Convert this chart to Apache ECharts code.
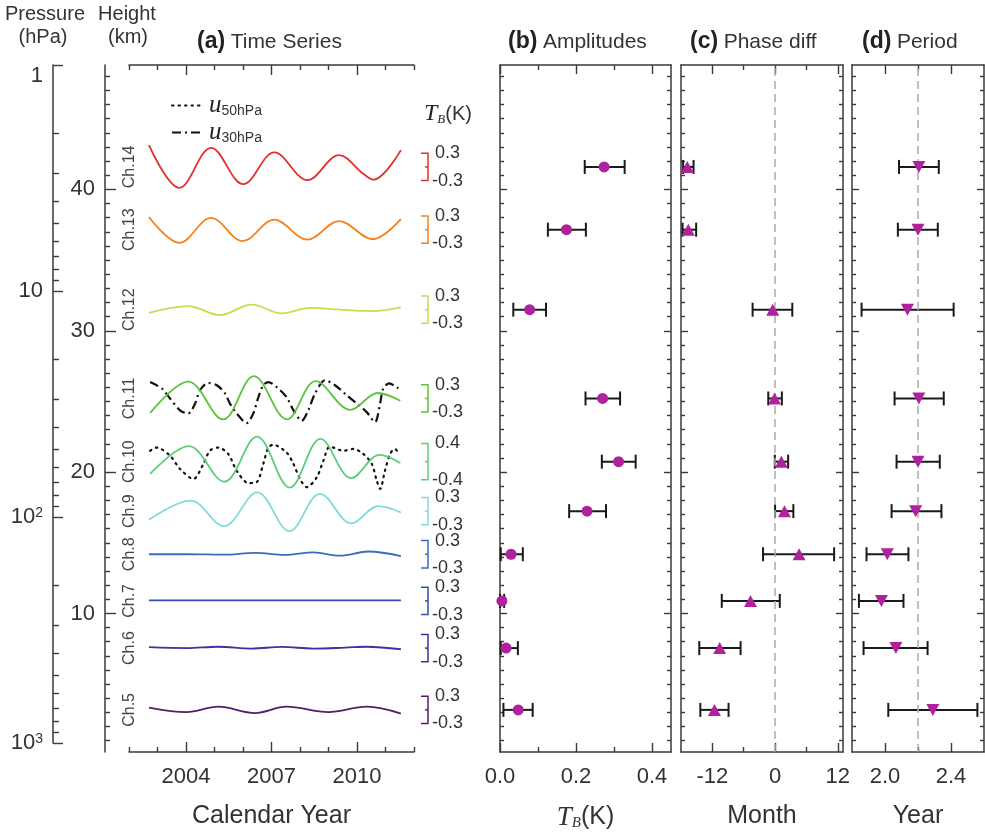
<!DOCTYPE html>
<html><head><meta charset="utf-8">
<script src="https://cdn.jsdelivr.net/npm/echarts@6/dist/echarts.min.js"></script>
<style>html,body{margin:0;padding:0;background:#fff}#c{width:985px;height:837px}</style>
</head><body><div id="c"></div>
<script>
// ---------------- DATA ----------------
const channelNames = ['Ch.14','Ch.13','Ch.12','Ch.11','Ch.10','Ch.9','Ch.8','Ch.7','Ch.6','Ch.5'];
const channelHeightKm = [41.59, 37.15, 31.49, 25.21, 20.74, 17.24, 14.19, 10.89, 7.55, 3.18];
const scaleBarK = [0.3, 0.3, 0.3, 0.3, 0.4, 0.3, 0.3, 0.3, 0.3, 0.3];

// (b) amplitudes (K)
const amplitude = [0.274, 0.175, 0.078, 0.270, 0.312, 0.229, 0.029, 0.005, 0.016, 0.048];
const ampLow    = [0.223, 0.126, 0.035, 0.225, 0.268, 0.182, 0.002, 0.000, 0.002, 0.009];
const ampHigh   = [0.328, 0.226, 0.121, 0.316, 0.357, 0.279, 0.060, 0.011, 0.047, 0.086];
// (c) phase difference (month)
const phase     = [-16.8, -16.6, -0.45, -0.1, 1.2, 1.8, 4.6, -4.7, -10.6, -11.6];
const phaseLow  = [-17.6, -17.7, -4.3, -1.3, -0.05, 0.0, -2.3, -10.2, -14.5, -14.3];
const phaseHigh = [-15.6, -15.1, 3.3, 1.3, 2.5, 3.5, 11.3, 0.9, -6.6, -8.9];
// (d) period (year)
const period     = [2.205, 2.200, 2.136, 2.205, 2.200, 2.186, 2.014, 1.978, 2.066, 2.290];
const periodLow  = [2.085, 2.078, 1.858, 2.058, 2.070, 2.040, 1.888, 1.842, 1.870, 2.020];
const periodHigh = [2.326, 2.320, 2.416, 2.356, 2.332, 2.342, 2.142, 2.112, 2.258, 2.560];
const phaseRef = 0;
const periodRef = 2.2;

// (a) time series [year, T_B anomaly (K)]
const tsCh14 = [[2002.70,0.48],[2003.77,-0.46],[2004.88,0.42],[2006.01,-0.38],[2007.10,0.32],[2008.26,-0.29],[2009.37,0.26],[2010.22,-0.15],[2010.57,-0.28],[2011.54,0.37]];
const tsCh13 = [[2002.70,0.28],[2003.77,-0.29],[2004.88,0.26],[2005.99,-0.25],[2007.10,0.22],[2008.26,-0.22],[2009.37,0.19],[2010.55,-0.21],[2011.54,0.23]];
const tsCh12 = [[2002.70,-0.07],[2004.08,0.08],[2005.19,-0.12],[2006.30,0.11],[2007.36,-0.08],[2008.35,0.04],[2009.40,0.0],[2010.57,-0.03],[2011.54,0.05]];
const tsCh11 = [[2002.74,-0.32],[2004.08,0.37],[2005.30,-0.46],[2006.38,0.49],[2007.54,-0.46],[2008.55,0.38],[2009.77,-0.25],[2010.73,0.12],[2011.52,-0.05]];
const tsCh10 = [[2002.74,-0.27],[2004.10,0.34],[2005.34,-0.44],[2006.49,0.55],[2007.64,-0.57],[2008.72,0.50],[2009.80,-0.36],[2010.80,0.15],[2011.52,-0.03]];
const tsCh9  = [[2002.70,-0.19],[2004.16,0.23],[2005.33,-0.33],[2006.50,0.41],[2007.63,-0.44],[2008.70,0.38],[2009.81,-0.27],[2010.75,0.11],[2011.54,-0.03]];
const tsCh8  = [[2002.70,0.0],[2004.02,0.0],[2005.31,-0.01],[2006.42,0.03],[2007.47,-0.015],[2008.47,0.04],[2009.40,-0.03],[2010.40,0.06],[2011.54,-0.04]];
const tsCh7  = [[2002.70,0.01],[2005.00,0.01],[2007.50,0.01],[2010.00,0.01],[2011.54,0.01]];
const tsCh6  = [[2002.70,0.02],[2004.02,0.0],[2005.13,0.03],[2006.30,-0.01],[2007.36,0.025],[2008.47,-0.01],[2009.58,0.01],[2010.34,0.03],[2011.54,-0.025]];
const tsCh5  = [[2002.70,0.05],[2004.02,-0.05],[2005.13,0.07],[2006.42,-0.07],[2007.53,0.07],[2008.99,-0.05],[2010.34,0.07],[2011.54,-0.08]];
const tsByChannel = [tsCh14, tsCh13, tsCh12, tsCh11, tsCh10, tsCh9, tsCh8, tsCh7, tsCh6, tsCh5];

// zonal wind (normalised) overlaid on Ch.10 (u50) and Ch.11 (u30)
const u50 = [[2002.74,0.24],[2002.97,0.31],[2003.44,0.13],[2003.79,-0.16],[2004.26,-0.38],[2004.61,-0.05],[2004.84,0.24],[2005.13,0.31],[2005.48,0.17],[2005.78,-0.20],[2006.19,-0.47],[2006.48,-0.45],[2006.71,-0.05],[2006.89,0.31],[2007.06,0.37],[2007.53,0.20],[2007.77,-0.05],[2008.00,-0.38],[2008.24,-0.56],[2008.59,-0.34],[2008.82,0.02],[2009.05,0.33],[2009.52,0.24],[2009.87,0.28],[2010.22,0.17],[2010.52,-0.05],[2010.69,-0.41],[2010.81,-0.60],[2010.98,-0.20],[2011.16,0.17],[2011.33,0.28],[2011.45,0.20]];
const u30 = [[2002.74,0.36],[2003.15,0.22],[2003.44,0.0],[2003.79,-0.26],[2004.08,-0.33],[2004.32,-0.11],[2004.49,0.18],[2004.78,0.34],[2005.08,0.29],[2005.37,0.11],[2005.54,-0.11],[2005.78,-0.33],[2006.13,-0.54],[2006.36,-0.33],[2006.54,0.03],[2006.71,0.29],[2006.89,0.36],[2007.18,0.25],[2007.53,0.03],[2007.77,-0.26],[2008.06,-0.49],[2008.29,-0.26],[2008.53,0.11],[2008.88,0.40],[2009.23,0.29],[2009.64,0.07],[2009.99,-0.11],[2010.34,-0.30],[2010.63,-0.52],[2010.81,-0.11],[2010.92,0.22],[2011.13,0.33],[2011.45,0.22]];
const u50Channel = 4, u30Channel = 3;

// tick values
const pressureMajor = [1, 10, 100, 1000];
const pressureMinor = [2,3,4,5,6,7,8,9,20,30,40,50,60,70,80,90,200,300,400,500,600,700,800,900];
const heightMajor = [10, 20, 30, 40];
const heightMinor = Array.from({length: 48}, (_, k) => k + 1).filter(v => v % 10 !== 0);
const yearMajor = [2004, 2007, 2010];
const yearMinor = [2002, 2003, 2005, 2006, 2008, 2009, 2011, 2012];
const ampMajor = [0, 0.2, 0.4], ampMinor = [0.1, 0.3];
const monthMajor = [-12, 0, 12], monthMinor = [-6, 6];
const periodMajor = [2.0, 2.4], periodMinor = [2.2];

// ---------------- STYLE ----------------
const channelColors = ['#e2312b','#f5821f','#c9dc4e','#5cc43c','#5ccd7c','#82dad8','#3a6bbf','#2f4eb6','#4a2c9c','#5b1a6c'];
const MARK = '#b0219e';
const FONT = '"Liberation Sans", Arial, Helvetica, sans-serif';
const SERIF = '"Liberation Serif", "DejaVu Serif", serif';
const TXT = '#333';
const AXC = '#3a3a3a';
const KM_PER_K = 3.22;
const Y_MIN = 0.2, Y_MAX = 48.8;

const grids = [
  {left: 53,  top: 65, width: 10,  height: 678},
  {left: 105, top: 65, width: 10,  height: 687},
  {left: 129, top: 65, width: 285, height: 687},
  {left: 421, top: 65, width: 50,  height: 687},
  {left: 500, top: 65, width: 171, height: 687},
  {left: 681, top: 65, width: 162, height: 687},
  {left: 852, top: 65, width: 132, height: 687}
].map(g => Object.assign(g, {containLabel: false, outerBoundsMode: 'none'}));

const xAxes = [], yAxes = [];
function axis(gi, pos, min, max, o) {
  o = o || {};
  const a = {
    type: o.type || 'value', gridIndex: gi, position: pos, min: min, max: max,
    inverse: !!o.inverse,
    axisLine: {show: !!o.line, onZero: false, lineStyle: {color: AXC, width: 1.5}},
    axisTick: o.ticks ? {show: true, inside: true, length: o.len, customValues: o.ticks, lineStyle: {color: AXC, width: 1.4}} : {show: false},
    axisLabel: {show: false},
    splitLine: {show: false},
    minorTick: {show: false},
    axisPointer: {show: false}
  };
  if (o.type === 'log') a.logBase = 10;
  if (o.labels) a.axisLabel = Object.assign({show: true, customValues: o.labels, color: TXT, fontFamily: FONT, fontSize: 22, margin: 14}, o.labelOpt || {});
  if (o.name) {
    a.name = o.name; a.nameLocation = 'middle'; a.nameGap = o.nameGap;
    a.nameTextStyle = Object.assign({color: TXT, fontFamily: FONT, fontSize: 25}, o.nameStyle || {});
  }
  return a;
}
function hidden(gi, min, max) { return {type: 'value', gridIndex: gi, min: min, max: max, show: false}; }

// grid 0: pressure axis
xAxes.push(hidden(0, 0, 1));
yAxes.push(axis(0, 'left', 1, 1000, {type: 'log', inverse: true, line: true, ticks: pressureMajor, len: 10,
  labels: pressureMajor, labelOpt: {margin: 10,
    formatter: v => v === 1 ? '{top|1}' : (v === 10 ? '10' : '10{sup|' + Math.round(Math.log10(v)) + '}'),
    rich: {top: {padding: [22, 0, 0, 0], fontSize: 22, color: TXT}, sup: {fontSize: 14, verticalAlign: 'top', color: TXT}}}}));
yAxes.push(axis(0, 'left', 1, 1000, {type: 'log', inverse: true, ticks: pressureMinor, len: 6}));

// grid 1: height axis
xAxes.push(hidden(1, 0, 1));
yAxes.push(axis(1, 'left', Y_MIN, Y_MAX, {line: true, ticks: heightMajor, len: 11, labels: heightMajor, labelOpt: {margin: 10}}));
yAxes.push(axis(1, 'left', Y_MIN, Y_MAX, {ticks: heightMinor, len: 5}));

// grid 2: panel (a)
const axA = xAxes.length;
xAxes.push(axis(2, 'bottom', 2002, 2012, {line: true, ticks: yearMajor, len: 10, labels: yearMajor,
  labelOpt: {formatter: v => String(v)}, name: 'Calendar Year', nameGap: 52}));
xAxes.push(axis(2, 'bottom', 2002, 2012, {ticks: yearMinor, len: 5}));
xAxes.push(axis(2, 'top', 2002, 2012, {line: true, ticks: yearMajor, len: 10}));
xAxes.push(axis(2, 'top', 2002, 2012, {ticks: yearMinor, len: 5}));
const ayA = yAxes.length;
yAxes.push(axis(2, 'left', Y_MIN, Y_MAX, {labels: channelHeightKm, labelOpt: {
  rotate: 90, inside: true, margin: -7, fontSize: 16, color: '#444',
  formatter: v => channelNames[channelHeightKm.indexOf(v)] || ''}}));

// grid 3: scale bars
const axS = xAxes.length; xAxes.push(hidden(3, 0, 1));
const ayS = yAxes.length; yAxes.push(hidden(3, Y_MIN, Y_MAX));

function boxPanel(gi, xmin, xmax, xMaj, xMin, fmt, name, nameStyle) {
  const xi = xAxes.length;
  xAxes.push(axis(gi, 'bottom', xmin, xmax, {line: true, ticks: xMaj, len: 9, labels: xMaj, labelOpt: {formatter: fmt}, name: name, nameGap: 52, nameStyle: nameStyle}));
  xAxes.push(axis(gi, 'bottom', xmin, xmax, {ticks: xMin, len: 5}));
  xAxes.push(axis(gi, 'top', xmin, xmax, {line: true, ticks: xMaj, len: 9}));
  xAxes.push(axis(gi, 'top', xmin, xmax, {ticks: xMin, len: 5}));
  const yi = yAxes.length;
  yAxes.push(axis(gi, 'left', Y_MIN, Y_MAX, {line: true, ticks: heightMajor, len: 7}));
  yAxes.push(axis(gi, 'left', Y_MIN, Y_MAX, {ticks: heightMinor, len: 4}));
  yAxes.push(axis(gi, 'right', Y_MIN, Y_MAX, {line: true, ticks: heightMajor, len: 7}));
  yAxes.push(axis(gi, 'right', Y_MIN, Y_MAX, {ticks: heightMinor, len: 4}));
  return {xi: xi, yi: yi};
}
const pB = boxPanel(4, 0, 0.45, ampMajor, ampMinor, v => v.toFixed(1), '{t|T}{b|B}{k|(K)}',
  {rich: {t: {fontFamily: SERIF, fontStyle: 'italic', fontSize: 27, color: TXT},
          b: {fontFamily: SERIF, fontStyle: 'italic', fontSize: 15, color: TXT, verticalAlign: 'bottom'},
          k: {fontFamily: FONT, fontSize: 25, color: TXT}}});
const pC = boxPanel(5, -18, 13, monthMajor, monthMinor, v => String(v), 'Month');
const pD = boxPanel(6, 1.8, 2.6, periodMajor, periodMinor, v => v.toFixed(1), 'Year');

// ---------------- SERIES ----------------
const series = [];
tsByChannel.forEach((ts, i) => {
  series.push({type: 'line', xAxisIndex: axA, yAxisIndex: ayA, name: channelNames[i],
    data: ts.map(p => [p[0], channelHeightKm[i] + p[1] * KM_PER_K]),
    smooth: 0.36, symbol: 'none', lineStyle: {color: channelColors[i], width: 1.8}, z: 3});
});
series.push({type: 'line', name: 'u50', xAxisIndex: axA, yAxisIndex: ayA,
  data: u50.map(p => [p[0], channelHeightKm[u50Channel] + p[1] * KM_PER_K]),
  smooth: 0.3, symbol: 'none', itemStyle: {color: '#111'},
  lineStyle: {color: '#111', width: 2.2, type: [1.5, 5], cap: 'round'}, z: 2});
series.push({type: 'line', name: 'u30', xAxisIndex: axA, yAxisIndex: ayA,
  data: u30.map(p => [p[0], channelHeightKm[u30Channel] + p[1] * KM_PER_K]),
  smooth: 0.3, symbol: 'none', itemStyle: {color: '#111'},
  lineStyle: {color: '#111', width: 2.2, type: [9, 4, 2, 4]}, z: 2});

// scale bars
series.push({type: 'custom', xAxisIndex: axS, yAxisIndex: ayS, silent: true,
  data: channelHeightKm.map((h, i) => [h, scaleBarK[i], i]),
  renderItem: (params, api) => {
    const h = api.value(0), r = api.value(1), i = api.value(2);
    const top = api.coord([0, h + r * KM_PER_K]), bot = api.coord([0, h - r * KM_PER_K]), mid = api.coord([0, h]);
    const x0 = top[0], xv = x0 + 7;
    const st = {stroke: channelColors[i], lineWidth: 1.5, fill: null};
    const ts = {fill: TXT, fontSize: 18, fontFamily: FONT, align: 'left', verticalAlign: 'middle'};
    return {type: 'group', children: [
      {type: 'polyline', shape: {points: [[x0, top[1]], [xv, top[1]], [xv, bot[1]], [x0, bot[1]]]}, style: st},
      {type: 'line', shape: {x1: xv - 3, y1: mid[1], x2: xv, y2: mid[1]}, style: st},
      {type: 'text', x: xv + 7, y: top[1], style: Object.assign({text: r.toFixed(1)}, ts)},
      {type: 'text', x: xv + 4, y: bot[1], style: Object.assign({text: '-' + r.toFixed(1)}, ts)}
    ]};
  }});

function errRender(params, api) {
  const lo = api.coord([api.value(0), api.value(2)]);
  const hi = api.coord([api.value(1), api.value(2)]);
  const c = 7;
  const st = {stroke: '#1a1a1a', lineWidth: 2};
  return {type: 'group', children: [
    {type: 'line', shape: {x1: lo[0], y1: lo[1], x2: hi[0], y2: hi[1]}, style: st},
    {type: 'line', shape: {x1: lo[0], y1: lo[1] - c, x2: lo[0], y2: lo[1] + c}, style: st},
    {type: 'line', shape: {x1: hi[0], y1: hi[1] - c, x2: hi[0], y2: hi[1] + c}, style: st}
  ]};
}
function panelSeries(p, val, lo, hi, symbol, size, rot, ref) {
  if (ref !== undefined) {
    series.push({type: 'line', xAxisIndex: p.xi, yAxisIndex: p.yi, data: [], z: 1, silent: true,
      markLine: {symbol: ['none', 'none'], silent: true, label: {show: false},
        lineStyle: {color: '#aaa', type: [8, 5], width: 1.5}, data: [{xAxis: ref}]}});
  }
  series.push({type: 'custom', xAxisIndex: p.xi, yAxisIndex: p.yi, z: 3, silent: true,
    data: val.map((v, i) => [lo[i], hi[i], channelHeightKm[i]]), renderItem: errRender});
  series.push({type: 'scatter', xAxisIndex: p.xi, yAxisIndex: p.yi, z: 5, silent: true,
    symbol: symbol, symbolSize: size, symbolRotate: rot,
    itemStyle: {color: MARK, opacity: 1},
    data: val.map((v, i) => [v, channelHeightKm[i]])});
}
panelSeries(pB, amplitude, ampLow, ampHigh, 'circle', 11, 0);
panelSeries(pC, phase, phaseLow, phaseHigh, 'triangle', [13, 12], 0, phaseRef);
panelSeries(pD, period, periodLow, periodHigh, 'triangle', [13, 12], 180, periodRef);

// ---------------- TEXT ----------------
const gtxt = (x, y, text, extra) => ({type: 'text', x: x, y: y, silent: true,
  style: Object.assign({text: text, fill: TXT, fontFamily: FONT, fontSize: 20, align: 'center', verticalAlign: 'middle'}, extra || {})});
const titleRich = {b: {fontFamily: FONT, fontWeight: 'bold', fontSize: 23, fill: '#222'}, n: {fontFamily: FONT, fontSize: 21, fill: TXT}};
const graphic = [
  gtxt(45, 14, 'Pressure'), gtxt(43, 37, '(hPa)'),
  gtxt(127, 14, 'Height'), gtxt(128, 37, '(km)'),
  gtxt(197, 42, '{b|(a)} {n|Time Series}', {align: 'left', rich: titleRich}),
  gtxt(508, 42, '{b|(b)} {n|Amplitudes}', {align: 'left', rich: titleRich}),
  gtxt(690, 42, '{b|(c)} {n|Phase diff}', {align: 'left', rich: titleRich}),
  gtxt(862, 42, '{b|(d)} {n|Period}', {align: 'left', rich: titleRich}),
  gtxt(424, 114, '{t|T}{s|B}{k|(K)}', {align: 'left', rich: {
    t: {fontFamily: SERIF, fontStyle: 'italic', fontSize: 24, fill: '#222'},
    s: {fontFamily: SERIF, fontStyle: 'italic', fontSize: 13, fill: '#222', verticalAlign: 'bottom'},
    k: {fontFamily: FONT, fontSize: 20, fill: TXT}}})
];

const option = {
  animation: false,
  backgroundColor: '#fff',
  textStyle: {fontFamily: FONT},
  grid: grids,
  xAxis: xAxes,
  yAxis: yAxes,
  legend: {
    left: 166, top: 88, orient: 'vertical', itemWidth: 32, itemHeight: 14, itemGap: 2,
    selectedMode: false, data: ['u50', 'u30'],
    itemStyle: {opacity: 0, borderWidth: 0},
    formatter: n => n === 'u50' ? '{u|u}{s|50hPa}' : '{u|u}{s|30hPa}',
    textStyle: {color: '#222', rich: {
      u: {fontFamily: SERIF, fontStyle: 'italic', fontSize: 25, color: '#222'},
      s: {fontFamily: FONT, fontSize: 14, color: '#333', verticalAlign: 'bottom'}}}
  },
  graphic: graphic,
  series: series
};
const chart = echarts.init(document.getElementById('c'), null, {renderer: 'canvas'});
chart.setOption(option);
</script></body></html>
